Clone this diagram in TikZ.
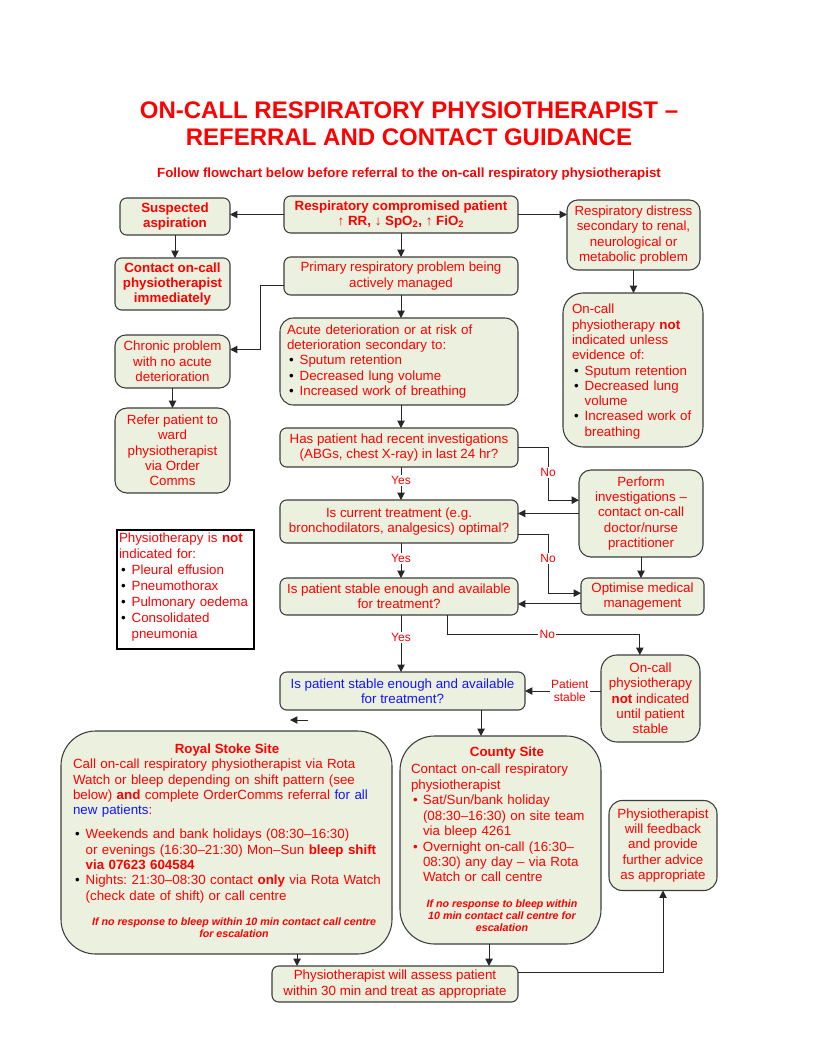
\documentclass[tikz,border=0pt]{standalone}
\usepackage{fontspec}
\setmainfont{Liberation Sans}
\usetikzlibrary{arrows.meta,calc}
\definecolor{tred}{RGB}{255,0,0}
\definecolor{tblue}{RGB}{20,20,255}
\definecolor{bfill}{RGB}{235,241,222}
\definecolor{bdraw}{RGB}{60,60,60}
\frenchspacing
\newcommand\bul[1]{\par\hangindent=9.5pt\hangafter=1\noindent\makebox[9.5pt][l]{\hspace{1.5pt}\textcolor{black}{\textbullet}}#1}
\newcommand\rbul[1]{\par\hangindent=9pt\hangafter=1\noindent\makebox[9pt][l]{\hspace{1.5pt}\textbullet}#1}
\tikzset{
 box/.style={draw=bdraw, line width=0.8pt, fill=bfill, rounded corners=5pt, inner sep=2pt, outer sep=0pt, align=center, text=tred, font=\fontsize{10}{11.5}\selectfont},
 bbox/.style={box, font=\fontsize{10}{11.5}\selectfont\bfseries},
 sz/.style 2 args={minimum width=#1, minimum height=#2},
 arr/.style={draw=black!85, line width=0.75pt, -{Triangle[length=5.5pt,width=5.5pt]}},
 lbl/.style={fill=white, inner sep=1pt, text=tred, font=\fontsize{9}{10}\selectfont, align=center},
 txt/.style={inner sep=0pt, outer sep=0pt, text=tred, align=left, text width=#1, font=\fontsize{10}{11.5}\selectfont},
 note/.style={inner sep=0pt, text=tred, align=center, font=\fontsize{8}{9}\selectfont\bfseries\itshape},
}
\begin{document}
\begin{tikzpicture}[x=0.75pt,y=-0.75pt]
\fill[white] (0,0) rectangle (817,1057);
\useasboundingbox (0,0) rectangle (817,1057);

% titles
\node[text=tred, font=\bfseries\fontsize{18}{20}\selectfont, align=center] (title) at (409,123.5) {ON-CALL RESPIRATORY PHYSIOTHERAPIST --\\REFERRAL AND CONTACT GUIDANCE};
\node[text=tred, font=\bfseries\fontsize{10}{11}\selectfont] (sub) at (409,174) {Follow flowchart below before referral to the on-call respiratory physiotherapist};

% boxes
\node[bbox, sz={82.5pt}{27.75pt}] (asp) at (175,216.5) {Suspected\\aspiration};
\node[bbox, sz={175.5pt}{27.75pt}] (comp) at (401,214.5) {Respiratory compromised patient\\{\mdseries↑} RR, {\mdseries↓} SpO\textsubscript{2}, {\mdseries↑} FiO\textsubscript{2}};
\node[box, sz={99.75pt}{52.5pt}, rounded corners=8pt] (distress) at (633.5,235) {Respiratory distress\\secondary to renal,\\neurological or\\metabolic problem};
\node[bbox, sz={86.25pt}{39pt}] (contact) at (172.5,284) {Contact on-call\\physiotherapist\\immediately};
\node[box, sz={175.5pt}{28.5pt}] (primary) at (401,276) {Primary respiratory problem being\\actively managed};
\node[box, sz={105pt}{115.5pt}, rounded corners=15pt] (notind) at (633,370) {};
\node[txt=100pt, anchor=north west] (notindt) at (572,304) {On-call\\physiotherapy \textbf{not}\\indicated unless\\evidence of:\bul{Sputum retention}\bul{Decreased lung\newline volume}\bul{Increased work of\newline breathing}\par};
\node[box, sz={86.25pt}{39.75pt}, rounded corners=8pt] (chronic) at (172.5,361.5) {Chronic problem\\with no acute\\deterioration};
\node[box, sz={178.5pt}{65.25pt}, rounded corners=10pt] (acute) at (399,361.5) {};
\node[txt=170pt, anchor=west] (acutet) at (287,361.5) {Acute deterioration or at risk of\\deterioration secondary to:\bul{Sputum retention}\bul{Decreased lung volume}\bul{Increased work of breathing}\par};
\node[box, sz={86.25pt}{63.75pt}, rounded corners=9pt] (refer) at (172.5,450.5) {Refer patient to\\ward\\physiotherapist\\via Order\\Comms};
\node[box, sz={178.5pt}{29.25pt}] (recent) at (399,447.5) {Has patient had recent investigations\\(ABGs, chest X-ray) in last 24 hr?};
\node[box, sz={93pt}{65.25pt}, rounded corners=9pt] (perform) at (641,513.5) {Perform\\investigations --\\contact on-call\\doctor/nurse\\practitioner};
\node[box, sz={178.5pt}{32.25pt}] (current) at (399,521.5) {Is current treatment (e.g.\\bronchodilators, analgesics) optimal?};
\node[draw=black, line width=1.2pt, fill=white, sz={102.75pt}{89.25pt}, inner sep=0pt] (nofor) at (185.5,589.5) {};
\node[txt=100pt, anchor=north west, font=\fontsize{10}{12}\selectfont] (nofort) at (119,533) {Physiotherapy is \textbf{not}\\indicated for:\bul{Pleural effusion}\bul{Pneumothorax}\bul{Pulmonary oedema}\bul{Consolidated\newline pneumonia}\par};
\node[box, sz={178.5pt}{27.75pt}] (stable1) at (399,596.5) {Is patient stable enough and available\\for treatment?};
\node[box, sz={92.25pt}{27.75pt}] (optimise) at (642.5,596.5) {Optimise medical\\management};
\node[box, sz={74.25pt}{65.25pt}, rounded corners=12pt] (until) at (650.5,698.5) {On-call\\physiotherapy\\\textbf{not} indicated\\until patient\\stable};
\node[box, sz={183.75pt}{28.5pt}, text=tblue] (blue) at (402.5,691) {Is patient stable enough and available\\for treatment?};
\node[box, sz={248.25pt}{167.25pt}, rounded corners=26pt] (royal) at (226.5,842.5) {};
\node[text=tred, inner sep=0pt, font=\fontsize{10}{11.5}\selectfont\bfseries] (royalh) at (227,750) {Royal Stoke Site};
\node[txt=250pt, anchor=north west] (royalt) at (73,759) {Call on-call respiratory physiotherapist via Rota\\Watch or bleep depending on shift pattern (see\\below) \textbf{and} complete OrderComms referral {\color{tblue}for all}\\{\color{tblue}new patients}:\par\vspace{6.5pt}\bul{Weekends and bank holidays (08:30--16:30)\newline or evenings (16:30--21:30) Mon--Sun \textbf{bleep shift\newline via 07623 604584}}\bul{Nights: 21:30--08:30 contact \textbf{only} via Rota Watch\newline (check date of shift) or call centre}\par};
\node[note] (royaln) at (234,928) {If no response to bleep within 10 min contact call centre\\for escalation};
\node[box, sz={150.75pt}{156pt}, rounded corners=26pt] (county) at (500.5,840) {};
\node[text=tred, inner sep=0pt, font=\fontsize{10}{11.5}\selectfont\bfseries] (countyh) at (507,753) {County Site};
\node[txt=150pt, anchor=north west, font=\fontsize{10}{11.6}\selectfont] (countyt) at (411,764) {Contact on-call respiratory\\physiotherapist\rbul{Sat/Sun/bank holiday\newline (08:30--16:30) on site team\newline via bleep 4261}\rbul{Overnight on-call (16:30--\newline 08:30) any day -- via Rota\newline Watch or call centre}\par};
\node[note] (countyn) at (502,916) {If no response to bleep within\\10 min contact call centre for\\escalation};
\node[box, sz={81pt}{67.5pt}, rounded corners=10pt] (feedback) at (663,845.5) {Physiotherapist\\will feedback\\and provide\\further advice\\as appropriate};
\node[box, sz={184.5pt}{27pt}] (assess) at (395,984) {Physiotherapist will assess patient\\within 30 min and treat as appropriate};

% connectors
\coordinate (cx) at (401,0);
\coordinate (nx) at (548,0);
\draw[arr] (comp.west) -- (comp.west -| asp.east);
\draw[arr] (comp.east) -- (comp.east -| distress.west);
\draw[arr] (cx |- comp.south) -- (cx |- primary.north);
\draw[arr] (asp.south) -- (asp.south |- contact.north);
\draw[arr] (distress.south) -- (distress.south |- notind.north);
\coordinate (pw) at ([yshift=-6.75pt]primary.west);
\coordinate (chw) at ([yshift=9pt]chronic.east);
\draw[arr] (pw) -- ++(-24,0) |- (chw);
\draw[arr] (cx |- primary.south) -- (cx |- acute.north);
\draw[arr] (chronic.south) -- (refer.north);
\draw[arr] (cx |- acute.south) -- (cx |- recent.north);
\coordinate (pw1) at ([yshift=10pt]perform.west);
\draw[arr] (recent.east) -- (recent.east -| nx) -- node[lbl,pos=0.48]{No} (nx |- pw1) -- (pw1);
\draw[arr] (cx |- recent.south) -- node[lbl,pos=0.42]{Yes} (cx |- current.north);
\draw[arr] (perform.west) -- (perform.west -| current.east);
\coordinate (ce2) at ([yshift=-10pt]current.east);
\coordinate (ow1) at ([yshift=2.5pt]optimise.west);
\draw[arr] (ce2) -- (ce2 -| nx) -- node[lbl,pos=0.4]{No} (nx |- ow1) -- (ow1);
\draw[arr] (cx |- current.south) -- node[lbl,pos=0.43]{Yes} (cx |- stable1.north);
\draw[arr] (perform.south) -- (perform.south |- optimise.north);
\coordinate (ow2) at ([yshift=-5.6pt]optimise.west);
\draw[arr] (ow2) -- (ow2 -| stable1.east);
\coordinate (s1) at ([xshift=36pt]stable1.south);
\coordinate (un) at ([xshift=-8pt]until.north);
\draw[arr] (s1) -- ++(0,19) -| node[lbl,pos=0.26]{No} (un);
\draw[arr] (cx |- stable1.south) -- node[lbl,pos=0.39]{Yes} (cx |- blue.north);
\draw[arr] (until.west |- blue.east) -- node[lbl,pos=0.41]{Patient\\stable} (blue.east);
\coordinate (bs) at ([xshift=58.9pt]blue.south);
\draw[arr] (bs) -- (bs |- county.north);
\coordinate (oa) at (308,720);
\draw[arr] (oa) -- ++(-18,0);
\coordinate (rs) at ([xshift=52.9pt]royal.south);
\draw[arr] (rs) -- (rs |- assess.north);
\coordinate (cs) at ([xshift=-8.6pt]county.south);
\draw[arr] (cs) -- (cs |- assess.north);
\coordinate (ae) at ([yshift=9pt]assess.east);
\draw[arr] (ae) -| (feedback.south);
\end{tikzpicture}
\end{document}
